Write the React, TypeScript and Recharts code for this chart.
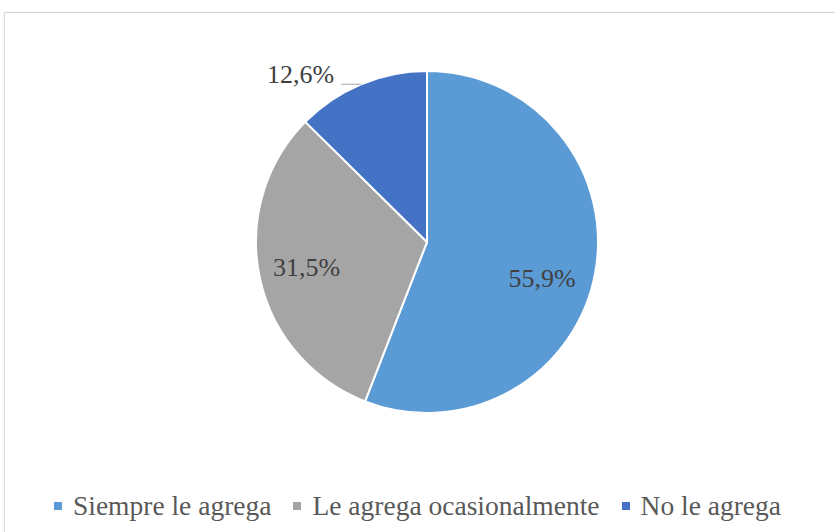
import { PieChart, Pie, Cell, Legend } from 'recharts';

const categories = ['Siempre le agrega', 'Le agrega ocasionalmente', 'No le agrega'];
const shares = [55.9, 31.5, 12.6];
const colors = ['#5B9BD5', '#A5A5A5', '#4472C4'];

const data = categories.map((name, i) => ({ name, value: shares[i] }));

const RADIAN = Math.PI / 180;
const SERIF = "'Liberation Serif', 'Times New Roman', Times, 'DejaVu Serif', serif";

// Excel style: two labels inside, the small slice gets an outside label with a short leader
const renderLabel = ({ cx, cy, midAngle, outerRadius, value, index }: any) => {
  const text = value.toFixed(1).replace('.', ',') + '%';
  const cos = Math.cos(-midAngle * RADIAN);
  const sin = Math.sin(-midAngle * RADIAN);
  if (index === 2) {
    const ox = cx + outerRadius * cos;
    const oy = cy + outerRadius * sin;
    return (
      <g>
        <line x1={ox} y1={oy} x2={ox - 20} y2={oy} stroke="#a6a6a6" strokeWidth={1} />
        <text x={ox - 27} y={oy - 7} textAnchor="end" dominantBaseline="middle"
          fill="#404040" fontSize={26} style={{ fontFamily: SERIF }}>
          {text}
        </text>
      </g>
    );
  }
  const r = outerRadius * 0.72;
  const nudge = index === 0 ? 16 : 2;
  return (
    <text x={cx + r * cos - (index === 0 ? 6 : 0)} y={cy + r * sin + nudge} textAnchor="middle"
      dominantBaseline="middle" fill="#404040" fontSize={26} style={{ fontFamily: SERIF }}>
      {text}
    </text>
  );
};

const LegendContent = () => (
  <div style={{ display: 'flex', justifyContent: 'center', alignItems: 'center',
    fontFamily: SERIF, fontSize: 27.5, color: '#595959' }}>
    {categories.map((c, i) => (
      <div key={c} style={{ display: 'flex', alignItems: 'center', marginRight: i < 2 ? 22 : 0 }}>
        <span style={{ width: 8, height: 8, background: colors[i], marginRight: 11, display: 'inline-block' }} />
        <span>{c}</span>
      </div>
    ))}
  </div>
);

export default function App() {
  return (
    <div style={{ position: 'absolute', left: 0, top: 0, width: 835, height: 532, overflow: 'hidden', background: '#fff' }}>
      <div style={{ position: 'absolute', left: 4, top: 12, width: 860, height: 560,
        border: '1px solid #d9d9d9', boxShadow: '0 0 2px #e6e6e6' }} />
      <div style={{ position: 'absolute', left: 0, top: 0 }}>
        <PieChart width={835} height={532} margin={{ top: 0, right: 0, bottom: 0, left: 0 }}>
          <Pie
            data={data}
            dataKey="value"
            nameKey="name"
            cx={427}
            cy={242}
            outerRadius={171}
            startAngle={90}
            endAngle={-270}
            stroke="#fff"
            strokeWidth={2}
            label={renderLabel}
            labelLine={false}
            isAnimationActive={false}
          >
            {data.map((d, i) => (
              <Cell key={d.name} fill={colors[i]} />
            ))}
          </Pie>
          <Legend content={<LegendContent />} wrapperStyle={{ top: 490, left: 0, width: 835 }} />
        </PieChart>
      </div>
    </div>
  );
}
